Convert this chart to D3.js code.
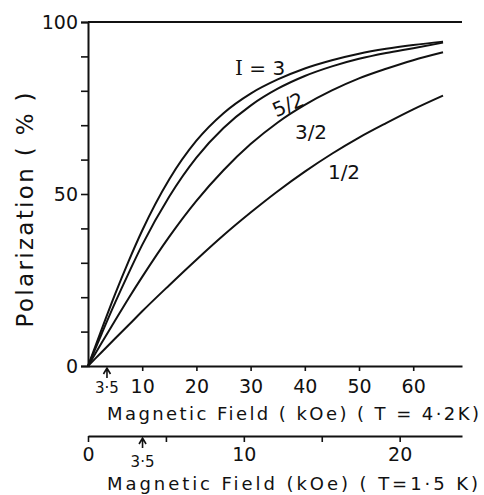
<!DOCTYPE html>
<html><head><meta charset="utf-8">
<script src="https://cdn.jsdelivr.net/npm/d3@7"></script>
<style>
body{margin:0;background:#fff;}
svg text{font-family:"DejaVu Sans",sans-serif;fill:#111;}
</style></head>
<body><svg id="c" width="484" height="495"></svg>
<script>
// Magnetic field (kOe, T = 4.2 K)
const field = [0, 2.5, 5, 7.5, 10, 15, 20, 25, 30, 35, 40, 45, 50, 55, 60, 65.5];
// Polarization (%) for each spin I
const polI3   = [0, 10.6, 20.9, 30.5, 39.4, 54.3, 65.5, 73.5, 79.2, 83.3, 86.5, 88.9, 90.8, 92.2, 93.3, 94.3];
const polI5_2 = [0, 9.3, 18.4, 27.0, 35.2, 49.3, 60.6, 69.2, 75.7, 80.6, 84.3, 87.1, 89.3, 91.0, 92.4, 94.0];
const polI3_2 = [0, 6.7, 13.2, 19.7, 25.9, 37.6, 48.0, 56.9, 64.5, 70.8, 75.9, 80.1, 83.6, 86.4, 88.9, 91.2];
const polI1_2 = [0, 4.0, 8.0, 11.9, 15.9, 23.5, 30.9, 38.0, 44.6, 50.8, 56.5, 61.7, 66.4, 70.6, 74.6, 78.6];
const seriesNames = ["3", "5/2", "3/2", "1/2"];
const yTicks = [0, 10, 20, 30, 40, 50, 60, 70, 80, 90, 100];
const yLabels = [0, 50, 100];
const xTicksHi = [10, 20, 30, 40, 50, 60];
const xTicksLo = [0, 5, 10, 15, 20];
const xLabelsLo = [0, 10, 20];
const marker = 3.5;

const svg = d3.select("#c");
const x = d3.scaleLinear().domain([0, 69]).range([88, 462]);
const xLo = d3.scaleLinear().domain([0, 24]).range([88, 462]);
const y = d3.scaleLinear().domain([0, 100]).range([366, 22]);

// top frame line
svg.append("line").attr("x1", x(0)).attr("x2", x(69)).attr("y1", y(100)).attr("y2", y(100))
  .attr("stroke", "#111").attr("stroke-width", 2);

// y axis
const ya = svg.append("g").attr("transform", `translate(${x(0)},0)`)
  .call(d3.axisLeft(y).tickValues(yTicks).tickSize(7).tickPadding(3)
    .tickFormat(d => yLabels.includes(d) ? d : ""));
// upper x axis
const xa = svg.append("g").attr("transform", `translate(0,${y(0)})`)
  .call(d3.axisBottom(x).tickValues(xTicksHi).tickSize(5).tickPadding(9).tickSizeOuter(0));
// lower x axis
const xb = svg.append("g").attr("transform", "translate(0,436)")
  .call(d3.axisBottom(xLo).tickValues(xTicksLo).tickSize(6).tickPadding(6).tickSizeOuter(0)
    .tickFormat(d => xLabelsLo.includes(d) ? d : ""));
[ya, xa, xb].forEach(g => {
  g.selectAll("path.domain").attr("stroke", "#111").attr("stroke-width", 2);
  g.selectAll(".tick line").attr("stroke", "#111").attr("stroke-width", 1.6);
  g.selectAll(".tick text").style("font-family", "DejaVu Sans").style("font-size", "19px").attr("fill", "#111");
});

// 3.5 markers (arrows)
function arrow(px, yTop, yBot) {
  svg.append("path").attr("d", `M${px},${yBot}L${px},${yTop}M${px-3.5},${yTop+6}L${px},${yTop}L${px+3.5},${yTop+6}`)
    .attr("fill", "none").attr("stroke", "#111").attr("stroke-width", 1.6);
}
arrow(x(marker), 368, 378);
arrow(xLo(marker), 438, 448);
svg.append("text").attr("x", x(marker)).attr("y", 393).attr("text-anchor", "middle")
  .style("font-size", "15px").text("3·5");
svg.append("text").attr("x", xLo(marker)).attr("y", 467).attr("text-anchor", "middle")
  .style("font-size", "15px").text("3·5");

// curves
const allSeries = [polI3, polI5_2, polI3_2, polI1_2];
const line = d3.line().x((d, i) => x(field[i])).y(d => y(d)).curve(d3.curveMonotoneX);
allSeries.forEach(s => {
  svg.append("path").datum(s).attr("d", line).attr("fill", "none")
    .attr("stroke", "#111").attr("stroke-width", 2);
});

// curve labels
const t1 = svg.append("text").attr("x", 235).attr("y", 75).style("font-size", "20px");
t1.append("tspan").style("font-family", "DejaVu Serif").text("I");
t1.append("tspan").text(" = " + seriesNames[0]);
svg.append("text").attr("transform", "translate(291,111) rotate(-24)").attr("text-anchor", "middle")
  .style("font-size", "20px").text(seriesNames[1]);
svg.append("text").attr("x", 311).attr("y", 139).attr("text-anchor", "middle")
  .style("font-size", "20px").text(seriesNames[2]);
svg.append("text").attr("x", 344).attr("y", 179).attr("text-anchor", "middle")
  .style("font-size", "20px").text(seriesNames[3]);

// axis titles
svg.append("text").attr("transform", "translate(33,210) rotate(-90)").attr("text-anchor", "middle")
  .attr("textLength", 235).attr("lengthAdjust", "spacing")
  .style("font-size", "23px").text("Polarization ( % )");
svg.append("text").attr("x", 107).attr("y", 420).attr("textLength", 372).attr("lengthAdjust", "spacing")
  .style("font-size", "18px").text("Magnetic  Field ( kOe) ( T = 4·2K)");
svg.append("text").attr("x", 107).attr("y", 490).attr("textLength", 371).attr("lengthAdjust", "spacing")
  .style("font-size", "18px").text("Magnetic  Field (kOe) ( T=1·5 K)");
</script></body></html>
